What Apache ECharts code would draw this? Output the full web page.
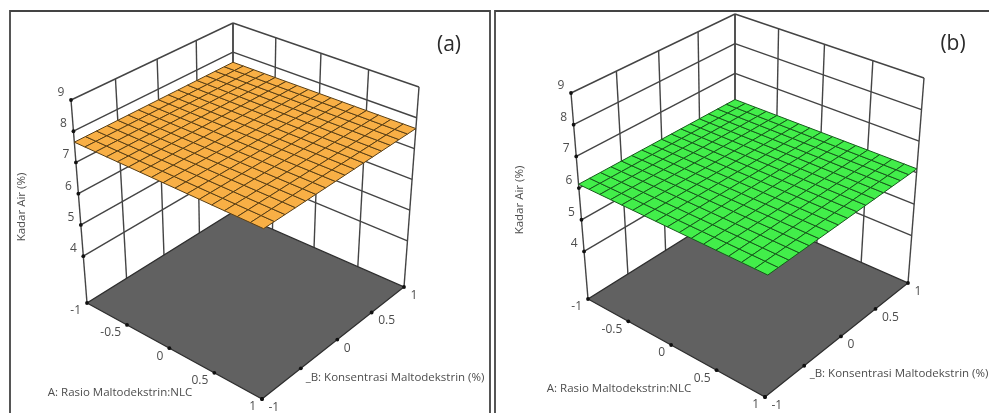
<!DOCTYPE html>
<html><head><meta charset="utf-8">
<style>html,body{margin:0;padding:0;background:#fff}#c{width:989px;height:413px;filter:blur(0.35px)}</style>
<script src="https://cdn.jsdelivr.net/npm/echarts@6/dist/echarts.min.js"></script>
</head><body><div id="c"></div>
<script>
// ---- data ----
const factorTicks = [-1, -0.5, 0, 0.5, 1];
const bLabelTicks = [-1, 0, 0.5, 1];
const responseTicks = [4, 5, 6, 7, 8, 9];
const responseFloor = 2.5;
const responseTop = 9;
const meshA = [-1,-0.875,-0.75,-0.625,-0.5,-0.375,-0.25,-0.125,0,0.125,0.25,0.375,0.5,0.625,0.75,0.875,1];
const meshB = [-1,-0.875,-0.75,-0.625,-0.5,-0.375,-0.25,-0.125,0,0.125,0.25,0.375,0.5,0.625,0.75,0.875,1];
const rowPanelA = [7.65,7.65,7.65,7.65,7.65,7.65,7.65,7.65,7.65,7.65,7.65,7.65,7.65,7.65,7.65,7.65,7.65];
const rowPanelB = [6.12,6.12,6.12,6.12,6.12,6.12,6.12,6.12,6.12,6.12,6.12,6.12,6.12,6.12,6.12,6.12,6.12];
const surfacePanelA = [rowPanelA,rowPanelA,rowPanelA,rowPanelA,rowPanelA,rowPanelA,rowPanelA,rowPanelA,rowPanelA,rowPanelA,rowPanelA,rowPanelA,rowPanelA,rowPanelA,rowPanelA,rowPanelA,rowPanelA];
const surfacePanelB = [rowPanelB,rowPanelB,rowPanelB,rowPanelB,rowPanelB,rowPanelB,rowPanelB,rowPanelB,rowPanelB,rowPanelB,rowPanelB,rowPanelB,rowPanelB,rowPanelB,rowPanelB,rowPanelB,rowPanelB];
const zTitle = 'Kadar Air (%)';
const aTitle = 'A: Rasio Maltodekstrin:NLC';
const bTitle = '_B: Konsentrasi Maltodekstrin (%)';

// ---- view of each 3D box (screen corners: left, front, right, back) ----
const panels = [
  { tag:'(a)', tagPos:[449,45], surface:surfacePanelA, fill:'#F8AF45', stroke:'#5A3F14',
    floor:[[87,303],[262,399],[404,287],[233,212]],
    top:[[71,100],[264,184],[419,87],[233,23]],
    zTitlePos:[22,207], aTitlePos:[120,393], bTitlePos:[395,378] },
  { tag:'(b)', tagPos:[953,44], surface:surfacePanelB, fill:'#42EE4A', stroke:'#175A1C',
    floor:[[588,299],[765,397],[908,283],[735,207]],
    top:[[571,93],[770,178],[924,78],[735,14]],
    zTitlePos:[520,200], aTitlePos:[619,389], bTitlePos:[899,374] }
];
function squareToQuad(q){
  const [x0,y0]=q[0],[x1,y1]=q[1],[x2,y2]=q[2],[x3,y3]=q[3];
  const dx1=x1-x2,dx2=x3-x2,sx=x0-x1+x2-x3,dy1=y1-y2,dy2=y3-y2,sy=y0-y1+y2-y3;
  const d=dx1*dy2-dx2*dy1, g=(sx*dy2-dx2*sy)/d, h=(dx1*sy-sx*dy1)/d;
  return (u,v)=>{
    const w=g*u+h*v+1;
    return [((x1-x0+g*x1)*u+(x3-x0+h*x3)*v+x0)/w, ((y1-y0+g*y1)*u+(y3-y0+h*y3)*v+y0)/w];
  };
}
panels.forEach(p=>{
  const f=squareToQuad(p.floor), t=squareToQuad(p.top);
  p.project=(a,b,z)=>{
    const u=(a+1)/2,v=(b+1)/2,k=(z-responseFloor)/(responseTop-responseFloor);
    const P=f(u,v),Q=t(u,v);
    return [P[0]+(Q[0]-P[0])*k,P[1]+(Q[1]-P[1])*k];
  };
});
const fontTitle='11.5px "Open Sans", sans-serif', fontTick='12px "Open Sans", sans-serif', labelColor='#4d4d4d';

function buildPanelSeries(p){
  const wallData=[];
  responseTicks.forEach(z=>{ wallData.push([-1,-1,z,-1,1,z]); wallData.push([-1,1,z,1,1,z]); });
  factorTicks.forEach(t=>{
    wallData.push([-1,t,responseFloor,-1,t,responseTop]);
    wallData.push([t,1,responseFloor,t,1,responseTop]);
  });
  const cells=[];
  for(let i=0;i<meshA.length-1;i++)for(let j=0;j<meshB.length-1;j++){
    cells.push([meshA[i],meshA[i+1],meshB[j],meshB[j+1],p.surface[i][j],p.surface[i+1][j],p.surface[i+1][j+1],p.surface[i][j+1]]);
  }
  const dots=[];
  responseTicks.forEach(z=>dots.push([-1,-1,z]));
  factorTicks.forEach(t=>{dots.push([t,-1,responseFloor]);dots.push([1,t,responseFloor]);});
  const labels=[];
  responseTicks.forEach(z=>labels.push({value:[-1,-1,z,-10,-7.5],text:String(z),align:'center'}));
  factorTicks.forEach(t=>labels.push({value:[t,-1,responseFloor,-6,8],text:String(t),align:'right'}));
  bLabelTicks.forEach(t=>labels.push({value:[1,t,responseFloor,6.5,8.5],text:String(t),align:'left'}));
  const common={type:'custom',coordinateSystem:'cartesian2d',clip:false,silent:true,animation:false};
  const xy=(api,a,b,z)=>api.coord(p.project(a,b,z));
  return [
    {...common,z:2,data:wallData,renderItem:(_,api)=>{
      const A=xy(api,api.value(0),api.value(1),api.value(2)),B=xy(api,api.value(3),api.value(4),api.value(5));
      return {type:'line',shape:{x1:A[0],y1:A[1],x2:B[0],y2:B[1]},style:{stroke:'#444',lineWidth:1.4}};
    }},
    {...common,z:3,data:[[-1,1,1,-1,-1,-1,1,1]],renderItem:(_,api)=>({
      type:'polygon',shape:{points:[
        xy(api,-1,-1,responseFloor),xy(api,1,-1,responseFloor),xy(api,1,1,responseFloor),xy(api,-1,1,responseFloor)]},
      style:{fill:'#616161',stroke:'#2e2e2e',lineWidth:1.3}
    })},
    {...common,z:4,data:cells,renderItem:(_,api)=>{
      const a0=api.value(0),a1=api.value(1),b0=api.value(2),b1=api.value(3);
      return {type:'polygon',shape:{points:[
        xy(api,a0,b0,api.value(4)),xy(api,a1,b0,api.value(5)),xy(api,a1,b1,api.value(6)),xy(api,a0,b1,api.value(7))]},
        style:{fill:p.fill,stroke:p.stroke,lineWidth:1}};
    }},
    {...common,z:5,data:dots,renderItem:(_,api)=>{
      const c=xy(api,api.value(0),api.value(1),api.value(2));
      return {type:'circle',shape:{cx:c[0],cy:c[1],r:1.9},style:{fill:'#111'}};
    }},
    {...common,z:6,data:labels,renderItem:(param,api)=>{
      const c=xy(api,api.value(0),api.value(1),api.value(2));
      const d=labels[param.dataIndex];
      return {type:'text',x:c[0]+api.value(3),y:c[1]+api.value(4),
        style:{text:d.text,align:d.align,verticalAlign:'middle',font:fontTick,fill:labelColor}};
    }}
  ];
}
const series=panels.flatMap(buildPanelSeries);

const frame=(pts)=>({type:'polyline',shape:{points:pts},style:{stroke:'#444',lineWidth:1.8,fill:null},silent:true});
const txt=(s,pos,font,fill,rotation)=>({type:'text',x:pos[0],y:pos[1],rotation:rotation||0,silent:true,z:20,
  style:{text:s,font:font,fill:fill||labelColor,align:'center',verticalAlign:'middle'}});
const graphicEls=[
  frame([[10,413],[10,11],[490,11],[490,413]]),
  frame([[495,413],[495,11],[989,11]])
];
panels.forEach(p=>{
  graphicEls.push(txt(p.tag,p.tagPos,'21px "Open Sans", sans-serif','#2b2b2b'));
  graphicEls.push(txt(zTitle,p.zTitlePos,fontTitle,labelColor,Math.PI/2));
  graphicEls.push(txt(aTitle,p.aTitlePos,fontTitle));
  graphicEls.push(txt(bTitle,p.bTitlePos,fontTitle));
});

const chart=echarts.init(document.getElementById('c'),null,{renderer:'canvas'});
chart.setOption({
  animation:false,backgroundColor:'#fff',
  grid:{left:0,right:0,top:0,bottom:0},
  xAxis:{type:'value',min:0,max:989,show:false},
  yAxis:{type:'value',min:0,max:413,inverse:true,show:false},
  graphic:{elements:graphicEls},
  series:series
});
</script></body></html>
